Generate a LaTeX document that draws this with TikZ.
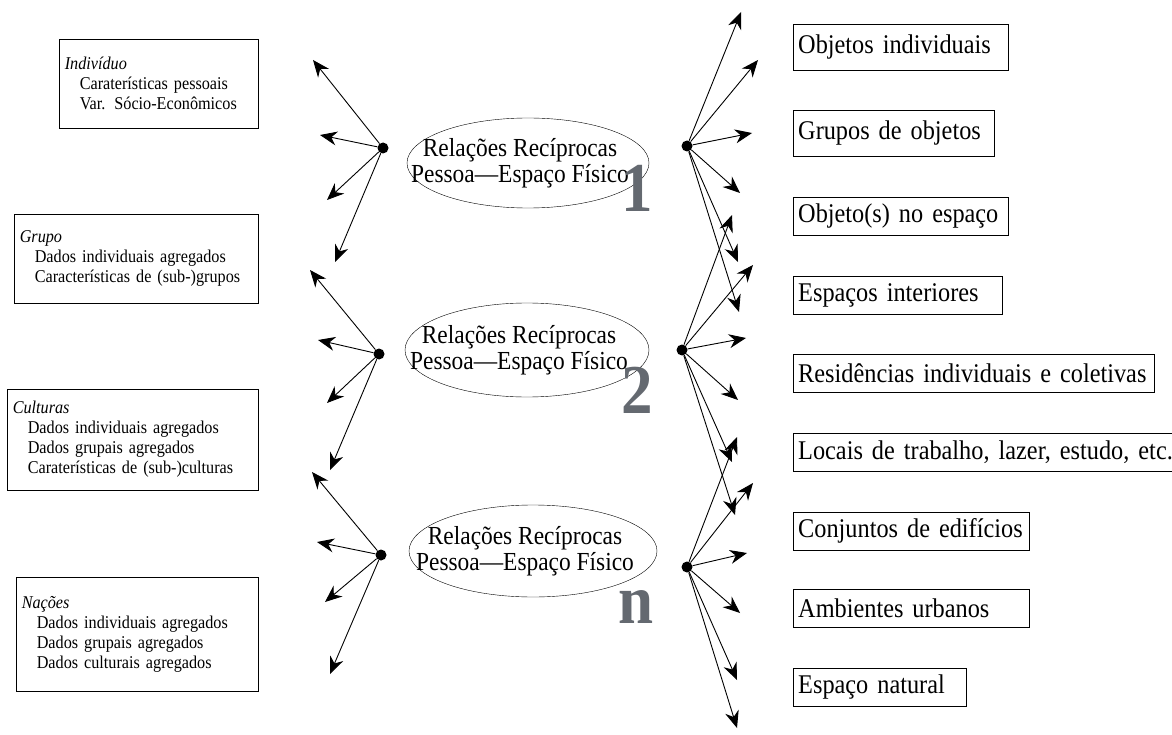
\documentclass[tikz,border=0pt]{standalone}
\usepackage{fontspec}
\setmainfont{Liberation Serif}[FakeStretch=0.9]
\usetikzlibrary{positioning,arrows.meta,shapes.geometric}

\definecolor{cinza}{RGB}{100,105,112}
\newcommand{\recuo}{\hspace*{15pt}}

\begin{document}
\begin{tikzpicture}[
    x=1pt, y=-1pt,
    nivel/.style={draw, anchor=east, align=left, text width=#1, inner xsep=6pt, font=\fontsize{18}{20}\selectfont},
    alvo/.style={draw, anchor=west, align=left, text width=#1, inner xsep=5pt, minimum height=38pt, font=\fontsize{27}{28}\selectfont},
    relacao/.style={draw, ellipse, minimum width=244pt, minimum height=92pt, inner sep=0pt},
    texto/.style={align=center, xshift=-8pt, font=\fontsize{26}{26}\selectfont},
    numero/.style={anchor=base, text=cinza, font=\fontsize{70}{70}\selectfont\bfseries},
    ponto/.style={circle, fill, inner sep=0pt, minimum size=11pt},
    seta/.style={-{Stealth[length=17pt,width=14pt]}, line width=0.9pt}
]
\useasboundingbox (0,0) rectangle (1172,735);

% --- Niveis de analise (esquerda) ---
\node[nivel=187pt, minimum height=89pt] (ind) at (258,83.5) {\textit{Indivíduo}\\\recuo Caraterísticas pessoais\\\recuo Var. Sócio-Econômicos};
\node[nivel=232pt, minimum height=89pt] (gru) at (258,258.5) {\textit{Grupo}\\\recuo Dados individuais agregados\\\recuo Características de (sub-)grupos};
\node[nivel=239pt, minimum height=101pt] (cul) at (258,439.5) {\textit{Culturas}\\\recuo Dados individuais agregados\\\recuo Dados grupais agregados\\\recuo Caraterísticas de (sub-)culturas};
\node[nivel=230pt, minimum height=114pt] (nac) at (258,634) {\textit{Nações}\\\recuo Dados individuais agregados\\\recuo Dados grupais agregados\\\recuo Dados culturais agregados};

% --- Relacoes reciprocas (centro) ---
\node[relacao, minimum width=242pt, minimum height=90pt, label={[texto]center:Relações Recíprocas\\Pessoa—Espaço Físico}] (rel1) at (528,163) {};
\node[relacao, minimum height=94pt, label={[texto]center:Relações Recíprocas\\Pessoa—Espaço Físico}] (rel2) at (527,350) {};
\node[relacao, minimum width=248pt, label={[texto]center:Relações Recíprocas\\Pessoa—Espaço Físico}] (reln) at (533,551) {};
\node[numero] (num1) at (637,212) {1};
\node[numero] (num2) at (637,413) {2};
\node[numero] (numn) at (636,623) {n};

% --- Espacos fisicos (direita) ---
\node[alvo=205pt, minimum height=46pt] (obj) at (793,47) {Objetos individuais};
\node[alvo=191pt, minimum height=46pt] (grp) at (793,133) {Grupos de objetos};
\node[alvo=205pt] (esp) at (793,216) {Objeto(s) no espaço};
\node[alvo=199pt] (int) at (793,295) {Espaços interiores};
\node[alvo=351pt] (res) at (793,373) {Residências individuais e coletivas};
\node[alvo=381pt] (loc) at (793,452) {Locais de trabalho, lazer, estudo, etc.};
\node[alvo=226pt] (edi) at (793,531) {Conjuntos de edifícios};
\node[alvo=226pt] (urb) at (793,608) {Ambientes urbanos};
\node[alvo=163pt] (nat) at (793,687) {Espaço natural};

% --- Pontos de ligacao ---
\node[ponto] (pe1) at (383,148) {};
\node[ponto] (pe2) at (379,354) {};
\node[ponto] (pe3) at (381,555) {};
\node[ponto] (pd1) at (687,146) {};
\node[ponto] (pd2) at (682,350) {};
\node[ponto] (pd3) at (687,567) {};

% --- Pontas das setas ---
\coordinate (e1a) at (313,60);  \coordinate (e1b) at (320,135); \coordinate (e1c) at (327,200); \coordinate (e1d) at (335,262);
\coordinate (e2a) at (310,270); \coordinate (e2b) at (318,340); \coordinate (e2c) at (327,403); \coordinate (e2d) at (330,470);
\coordinate (e3a) at (312,472); \coordinate (e3b) at (317,542); \coordinate (e3c) at (325,602); \coordinate (e3d) at (330,674);
\coordinate (d1a) at (741,12);  \coordinate (d1b) at (758,60);  \coordinate (d1c) at (752,133);
\coordinate (d1d) at (740,193); \coordinate (d1e) at (738,262); \coordinate (d1f) at (739,312);
\coordinate (d2a) at (732,215); \coordinate (d2b) at (753,265); \coordinate (d2c) at (746,338);
\coordinate (d2d) at (738,400); \coordinate (d2e) at (732,462); \coordinate (d2f) at (735,515);
\coordinate (d3a) at (737,437); \coordinate (d3b) at (753,483); \coordinate (d3c) at (747,553);
\coordinate (d3d) at (740,613); \coordinate (d3e) at (737,680); \coordinate (d3f) at (737,728);

% --- Setas ---
\foreach \s in {a,b,c,d} {
    \draw[seta] (pe1) -- (e1\s);
    \draw[seta] (pe2) -- (e2\s);
    \draw[seta] (pe3) -- (e3\s);
}
\foreach \s in {a,b,c,d,e,f} {
    \draw[seta] (pd1) -- (d1\s);
    \draw[seta] (pd2) -- (d2\s);
    \draw[seta] (pd3) -- (d3\s);
}

\end{tikzpicture}
\end{document}
